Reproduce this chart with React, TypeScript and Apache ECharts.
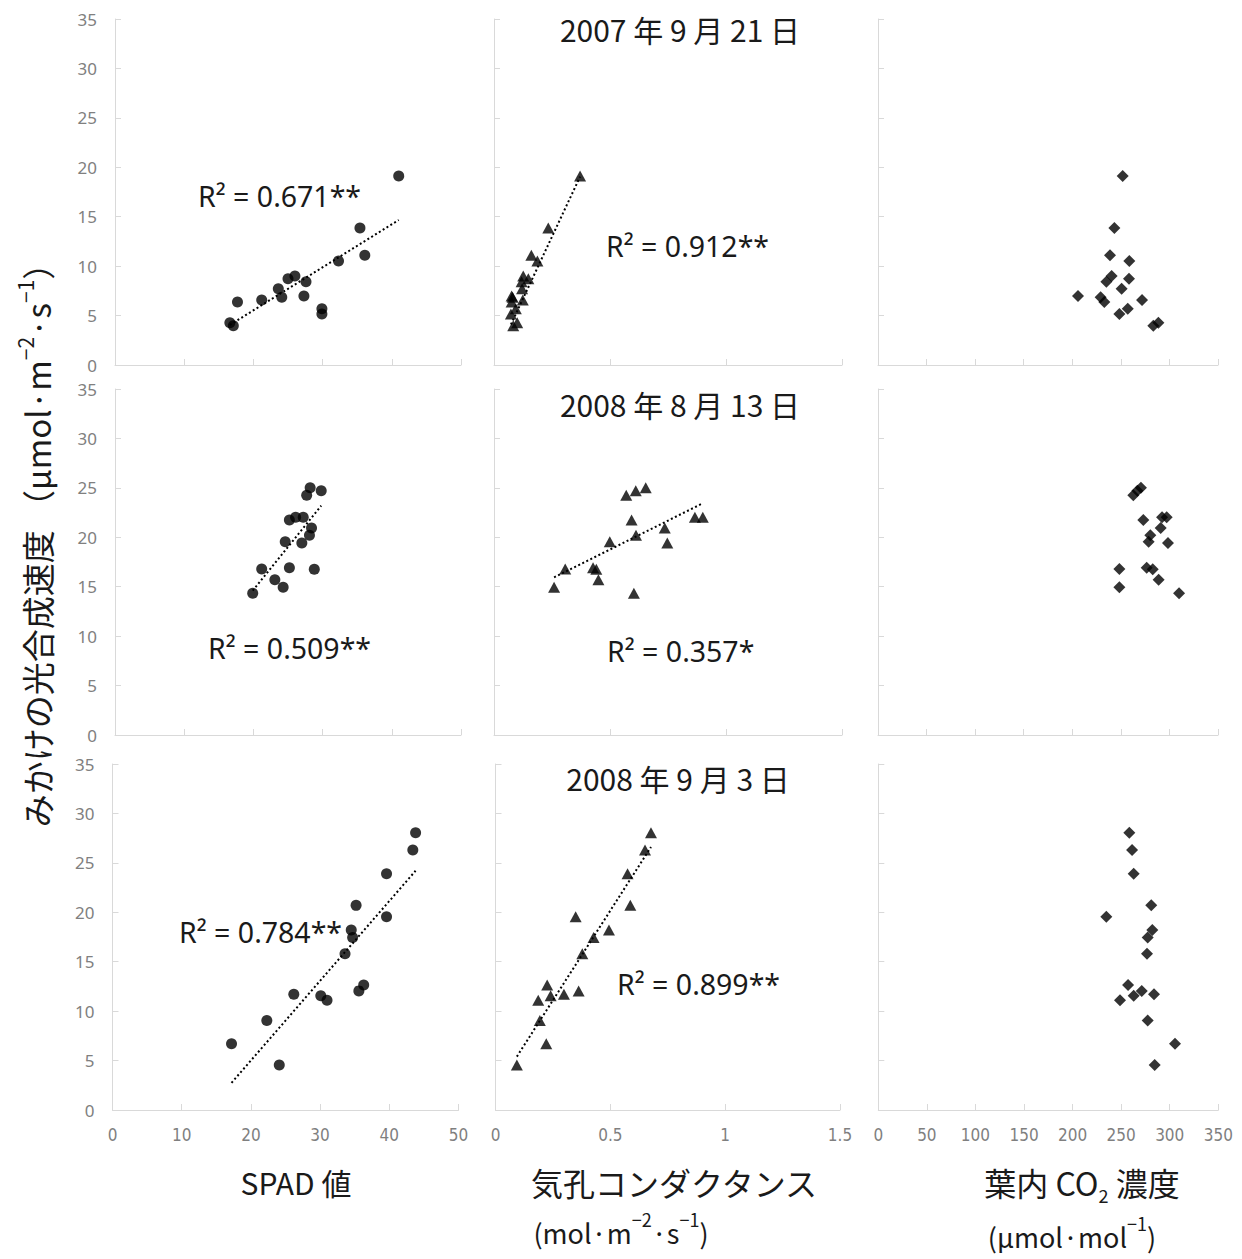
import React, { useEffect, useRef } from "react";
import * as echarts from "echarts";

// ---- data ----
const dateTitles = ["2007 年 9 月 21 日", "2008 年 8 月 13 日", "2008 年 9 月 3 日"];

// 2007-09-21
const rate0709 = [4.28, 3.98, 6.37, 6.57, 7.72, 6.85, 8.73, 9.0, 8.43, 6.98, 5.7, 5.16, 10.52, 13.86, 11.1, 19.12];
const spad0709 = [16.6, 17.1, 17.7, 21.2, 23.6, 24.1, 25.0, 26.0, 27.6, 27.3, 29.9, 29.9, 32.3, 35.4, 36.1, 41.0];
const gs0709 = [0.1, 0.083, 0.076, 0.124, 0.121, 0.08, 0.148, 0.126, 0.119, 0.076, 0.094, 0.073, 0.187, 0.234, 0.161, 0.371];
const ci0709 = [288.6, 283.4, 233.0, 271.8, 250.8, 229.2, 258.4, 240.5, 235.1, 205.9, 257.1, 248.5, 258.7, 243.3, 238.8, 251.9];

// 2008-08-13
const rate0808 = [14.33, 14.94, 15.71, 16.79, 16.92, 16.76, 19.55, 19.42, 20.2, 20.94, 21.75, 22.02, 22.02, 24.25, 24.71, 25.02];
const spad0808 = [19.9, 24.3, 23.1, 21.2, 25.2, 28.8, 24.6, 27.0, 28.1, 28.4, 25.2, 26.1, 27.2, 27.7, 29.8, 28.2];
const gs0808 = [0.603, 0.259, 0.45, 0.307, 0.427, 0.441, 0.499, 0.747, 0.612, 0.736, 0.593, 0.866, 0.9, 0.57, 0.611, 0.654];
const ci0808 = [309.9, 248.5, 288.9, 248.5, 276.6, 282.8, 278.6, 298.5, 280.3, 291.0, 273.1, 292.4, 297.2, 262.8, 267.0, 270.7];

// 2008-09-03
const rate0809 = [4.55, 6.7, 9.05, 11.1, 11.55, 11.7, 12.05, 12.65, 15.8, 17.45, 18.2, 19.55, 20.7, 23.9, 26.3, 28.05];
const spad0809 = [24.1, 17.2, 22.3, 31.0, 30.1, 26.2, 35.6, 36.3, 33.6, 34.7, 34.5, 39.6, 35.2, 39.6, 43.4, 43.8];
const gs0809 = [0.093, 0.221, 0.193, 0.186, 0.24, 0.298, 0.362, 0.225, 0.378, 0.427, 0.494, 0.349, 0.587, 0.575, 0.651, 0.677];
const ci0809 = [284.5, 305.4, 277.3, 248.8, 262.9, 283.8, 271.2, 257.1, 276.6, 277.3, 282.1, 234.7, 281.0, 262.9, 261.2, 258.4];

// trend lines (end points)
const trendSpad0709 = [[16.6, 4.05], [41.0, 14.67]];
const trendGs0709 = [[0.073, 4.1], [0.371, 19.05]];
const trendSpad0808 = [[19.9, 14.6], [29.8, 23.2]];
const trendGs0808 = [[0.259, 15.95], [0.9, 23.44]];
const trendSpad0809 = [[17.2, 2.75], [43.8, 24.2]];
const trendGs0809 = [[0.093, 5.4], [0.677, 26.6]];

const r2Labels = ["R² = 0.671**", "R² = 0.912**", "R² = 0.509**", "R² = 0.357*", "R² = 0.784**", "R² = 0.899**"];

// axis settings per column
const xMax = [50, 1.5, 350];
const xInterval = [10, 0.5, 50];
const yMax = 35;
const yInterval = 5;

// ---- layout ----
const rowTop = [19, 389, 764];
const rowHeight = 346;
const colLeft = [
  [115, 494, 878],
  [115, 494, 878],
  [112.5, 495.5, 878.3],
];
const colWidth = [
  [346, 348, 340],
  [346, 348, 340],
  [346, 344.5, 340],
];
const symbols = ["circle", "triangle", "diamond"];
const symbolSizes: any[] = [11, [12, 11], [12, 12]];
const titlePos = [
  [680, 29],
  [680, 404],
  [678, 778],
];
const r2Pos = [
  [198, 196],
  [606, 246],
  [208, 648],
  [607, 651],
  [179, 932],
  [617, 984],
];

const TICK_FONT = "'Noto Sans', 'DejaVu Sans', sans-serif";
const XTICK_FONT = "'Liberation Sans Narrow', 'DejaVu Sans Condensed', 'Noto Sans', sans-serif";
const CJK_FONT = "'Noto Sans CJK JP', 'Noto Sans', sans-serif";
const R2_FONT = "'Noto Sans', 'Open Sans', sans-serif";

export default function App() {
  const ref = useRef<HTMLDivElement>(null);
  useEffect(() => {
    if (!ref.current) return;
    const chart = echarts.init(ref.current, null, { renderer: "svg" });

    const rows = [
      { rate: rate0709, xs: [spad0709, gs0709, ci0709], trends: [trendSpad0709, trendGs0709] },
      { rate: rate0808, xs: [spad0808, gs0808, ci0808], trends: [trendSpad0808, trendGs0808] },
      { rate: rate0809, xs: [spad0809, gs0809, ci0809], trends: [trendSpad0809, trendGs0809] },
    ];

    const grid: any[] = [];
    const xAxis: any[] = [];
    const yAxis: any[] = [];
    const series: any[] = [];
    const axisColor = "#d9d9d9";

    rows.forEach((row, r) => {
      for (let c = 0; c < 3; c++) {
        const idx = r * 3 + c;
        grid.push({
          left: colLeft[r][c],
          top: rowTop[r],
          width: colWidth[r][c],
          height: rowHeight,
          containLabel: false,
        });
        xAxis.push({
          gridIndex: idx,
          type: "value",
          min: 0,
          max: xMax[c],
          interval: xInterval[c],
          axisLine: { show: true, onZero: false, lineStyle: { color: axisColor, width: 1 } },
          axisTick: { show: true, inside: true, length: 6, lineStyle: { color: axisColor } },
          splitLine: { show: false },
          axisLabel: {
            show: r === 2,
            color: "#7f7f7f",
            fontSize: 17,
            fontFamily: XTICK_FONT,
            margin: 16,
          },
        });
        yAxis.push({
          gridIndex: idx,
          type: "value",
          min: 0,
          max: yMax,
          interval: yInterval,
          axisLine: { show: true, onZero: false, lineStyle: { color: axisColor, width: 1 } },
          axisTick: { show: true, inside: true, length: 6, lineStyle: { color: axisColor } },
          splitLine: { show: false },
          axisLabel: {
            show: c === 0,
            color: "#808080",
            fontSize: 17,
            fontFamily: TICK_FONT,
            margin: 18,
          },
        });
        series.push({
          type: "scatter",
          xAxisIndex: idx,
          yAxisIndex: idx,
          symbol: symbols[c],
          symbolSize: symbolSizes[c],
          itemStyle: { color: "#000" },
          data: row.xs[c].map((x, i) => [x, row.rate[i]]),
          z: 3,
        });
        if (c < 2) {
          series.push({
            type: "line",
            xAxisIndex: idx,
            yAxisIndex: idx,
            data: row.trends[c],
            symbol: "none",
            showSymbol: false,
            silent: true,
            lineStyle: { color: "#000", width: 2, type: [2, 2.5] },
            z: 2,
          });
        }
      }
    });

    const graphic: any[] = [];
    dateTitles.forEach((t, i) => {
      graphic.push({
        type: "text",
        x: titlePos[i][0],
        y: titlePos[i][1],
        style: {
          text: t,
          fontSize: 30,
          fontFamily: CJK_FONT,
          fill: "#1a1a1a",
          align: "center",
          verticalAlign: "middle",
          textAlign: "center",
          textVerticalAlign: "middle",
        },
      });
    });
    r2Labels.forEach((t, i) => {
      graphic.push({
        type: "text",
        x: r2Pos[i][0],
        y: r2Pos[i][1],
        style: {
          text: t,
          fontSize: 28.5,
          fontFamily: R2_FONT,
          fill: "#1a1a1a",
          align: "left",
          verticalAlign: "middle",
          textAlign: "left",
          textVerticalAlign: "middle",
        },
      });
    });

    // y-axis name (rotated)
    graphic.push({
      type: "text",
      x: 37,
      y: 537,
      rotation: Math.PI / 2,
      style: {
        text: "みかけの光合成速度 （μmol·m{sup|−2}·s{sup|−1}）",
        fontSize: 33,
        fontFamily: CJK_FONT,
        fill: "#1a1a1a",
        align: "center",
        verticalAlign: "middle",
        textAlign: "center",
        textVerticalAlign: "middle",
        lineHeight: 46,
        rich: {
          sup: { fontSize: 21, fontFamily: CJK_FONT, fill: "#1a1a1a", verticalAlign: "top", lineHeight: 46 },
        },
      },
    });

    // x-axis names
    const bottomTexts = [
      { x: 296, y: 1182, text: "SPAD 値", size: 30 },
      { x: 674, y: 1182, text: "気孔コンダクタンス", size: 32 },
      { x: 1082, y: 1182, text: "葉内 CO{sub|2} 濃度", size: 32 },
      { x: 621, y: 1232, text: "(mol·m{sup|−2}·s{sup|−1})", size: 27 },
      { x: 1072, y: 1236, text: "(μmol·mol{sup|−1})", size: 27 },
    ];
    bottomTexts.forEach((b) => {
      graphic.push({
        type: "text",
        x: b.x,
        y: b.y,
        style: {
          text: b.text,
          fontSize: b.size,
          fontFamily: CJK_FONT,
          fill: "#1a1a1a",
          align: "center",
          verticalAlign: "middle",
          textAlign: "center",
          textVerticalAlign: "middle",
          lineHeight: 44,
          rich: {
            sup: { fontSize: 18, fontFamily: CJK_FONT, fill: "#1a1a1a", verticalAlign: "top", lineHeight: 44 },
            sub: { fontSize: 18, fontFamily: CJK_FONT, fill: "#1a1a1a", verticalAlign: "bottom", lineHeight: 44 },
          },
        },
      });
    });

    chart.setOption({
      animation: false,
      backgroundColor: "#ffffff",
      grid,
      xAxis,
      yAxis,
      series,
      graphic,
    });
    return () => chart.dispose();
  }, []);

  return (
    <div
      ref={ref}
      style={{ position: "absolute", left: 0, top: 0, width: 1242, height: 1259, background: "#fff" }}
    />
  );
}
